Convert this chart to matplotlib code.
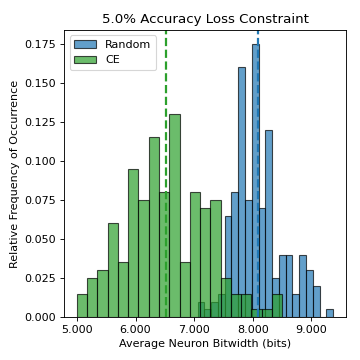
import numpy as np
import matplotlib
matplotlib.use("Agg")
import matplotlib.pyplot as plt
from matplotlib.ticker import FormatStrFormatter

# relative frequencies, one per bin
random_lo, random_hi = 7.058, 9.370
random_freq = [0.010, 0.005, 0.010, 0.015, 0.065, 0.080, 0.160, 0.075, 0.175, 0.070,
               0.120, 0.025, 0.040, 0.040, 0.015, 0.040, 0.030, 0.020, 0.000, 0.005]
ce_lo, ce_hi = 5.000, 8.500
ce_freq = [0.015, 0.025, 0.030, 0.060, 0.035, 0.095, 0.075, 0.115, 0.080, 0.130,
           0.035, 0.080, 0.070, 0.075, 0.025, 0.015, 0.015, 0.005, 0.005, 0.015]
random_mean = 8.093
ce_mean = 6.520

fig, ax = plt.subplots(figsize=(4.5, 4.5), dpi=80)

# Random first, CE on top
for lo, hi, freq, col, lab in [(random_lo, random_hi, random_freq, 'tab:blue', 'Random'),
                               (ce_lo, ce_hi, ce_freq, 'tab:green', 'CE')]:
    edges = np.linspace(lo, hi, len(freq) + 1)
    centers = (edges[:-1] + edges[1:]) / 2
    ax.hist(centers, bins=edges, weights=freq, color=col, edgecolor='k',
            alpha=0.7, label=lab)

ax.axvline(random_mean, color='tab:blue', ls='--', lw=2)
ax.axvline(ce_mean, color='tab:green', ls='--', lw=2)

ax.set_xticks([5, 6, 7, 8, 9])
ax.xaxis.set_major_formatter(FormatStrFormatter('%.3f'))
ax.yaxis.set_major_formatter(FormatStrFormatter('%.3f'))
ax.set_title('5.0% Accuracy Loss Constraint', fontsize=12)
ax.set_xlabel('Average Neuron Bitwidth (bits)')
ax.set_ylabel('Relative Frequency of Occurrence')
ax.legend(loc='upper left')

plt.subplots_adjust(left=0.178, right=0.961, top=0.917, bottom=0.119)
plt.savefig('out.png', dpi=80)
